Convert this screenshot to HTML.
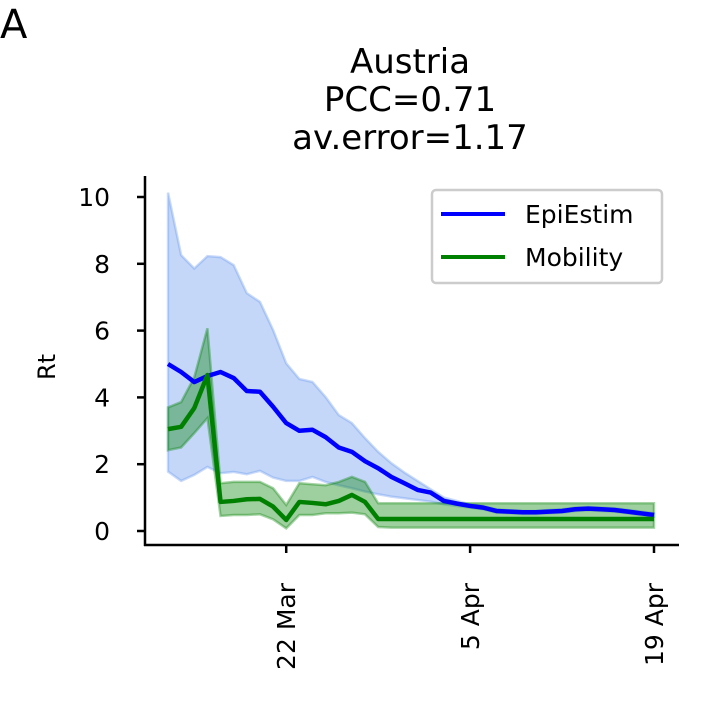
<!DOCTYPE html>
<html><head><meta charset="utf-8"><style>
html,body{margin:0;padding:0;background:#fff;}
svg{display:block;font-family:"DejaVu Sans","Liberation Sans",sans-serif;}
</style></head><body>
<svg id="chart" width="708" height="708" viewBox="0 0 708 708" xmlns="http://www.w3.org/2000/svg">
<text x="0" y="38" font-size="40">A</text>
<g font-size="34" text-anchor="middle">
<text x="410" y="73">Austria</text>
<text x="410" y="111">PCC=0.71</text>
<text x="410" y="149">av.error=1.17</text>
</g>
<text transform="translate(55,367) rotate(-90)" font-size="24" text-anchor="middle">Rt</text>
<g id="plot"></g>
<line x1="145" y1="176" x2="145" y2="546" stroke="#000" stroke-width="2.5"/>
<line x1="144" y1="545" x2="679" y2="545" stroke="#000" stroke-width="2.5"/>
<g id="ticks"></g>
<g>
<rect x="432" y="190" width="230" height="93" rx="4" fill="#fff" fill-opacity="0.8" stroke="#ccc" stroke-width="2.5"/>
<line x1="441" y1="214" x2="505" y2="214" stroke="#0000ff" stroke-width="4"/>
<text x="525" y="223" font-size="25">EpiEstim</text>
<line x1="441" y1="257" x2="505" y2="257" stroke="#008000" stroke-width="4"/>
<text x="525" y="266" font-size="25">Mobility</text>
</g>
</svg>
<script>
const epiMean=[5.0,4.76,4.46,4.64,4.76,4.58,4.19,4.17,3.72,3.23,3.0,3.03,2.81,2.5,2.37,2.09,1.88,1.62,1.43,1.23,1.15,0.9,0.82,0.75,0.7,0.6,0.58,0.56,0.56,0.58,0.6,0.65,0.67,0.65,0.63,0.58,0.53,0.48];
const epiUpper=[10.13,8.26,7.86,8.23,8.2,7.96,7.12,6.86,6.02,5.02,4.55,4.46,4.01,3.47,3.23,2.78,2.37,2.03,1.75,1.5,1.25,1.0,0.9,0.8,0.75,0.65,0.62,0.6,0.6,0.63,0.65,0.7,0.72,0.7,0.68,0.63,0.58,0.53];
const epiLower=[1.78,1.5,1.68,1.92,1.73,1.77,1.7,1.8,1.6,1.5,1.5,1.62,1.47,1.37,1.28,1.18,1.1,1.03,0.98,0.93,0.88,0.8,0.75,0.7,0.65,0.55,0.53,0.51,0.51,0.53,0.55,0.6,0.62,0.6,0.58,0.53,0.48,0.43];
const mobMean=[3.05,3.12,3.68,4.67,0.87,0.9,0.95,0.96,0.73,0.33,0.87,0.84,0.8,0.9,1.08,0.87,0.36,0.36,0.36,0.36,0.36,0.36,0.36,0.36,0.36,0.36,0.36,0.36,0.36,0.36,0.36,0.36,0.36,0.36,0.36,0.36,0.36,0.36];
const mobUpper=[3.7,3.86,4.6,6.07,1.43,1.47,1.47,1.47,1.28,0.78,1.43,1.4,1.37,1.47,1.62,1.47,0.83,0.83,0.83,0.83,0.83,0.83,0.83,0.83,0.83,0.83,0.83,0.83,0.83,0.83,0.83,0.83,0.83,0.83,0.83,0.83,0.83,0.83];
const mobLower=[2.42,2.5,2.93,3.38,0.45,0.48,0.48,0.5,0.35,0.08,0.48,0.48,0.53,0.53,0.55,0.5,0.12,0.1,0.1,0.1,0.1,0.1,0.1,0.1,0.1,0.1,0.1,0.1,0.1,0.1,0.1,0.1,0.1,0.1,0.1,0.1,0.1,0.1];
const yTicks=[0,2,4,6,8,10];
const xTickDays=[9,23,37];
const xTickLabels=["22 Mar","5 Apr","19 Apr"];
const NS="http://www.w3.org/2000/svg";
function xS(i){return 168+i*(654-168)/37;}
function yS(v){return 531-v*33.4;}
function mk(tag,attrs,parent){const e=document.createElementNS(NS,tag);for(const k in attrs)e.setAttribute(k,attrs[k]);parent.appendChild(e);return e;}
const plot=document.getElementById('plot');
function band(up,lo,fill,stroke,name){
 let d='M'+up.map((v,i)=>xS(i)+','+yS(v)).join('L')+'L'+lo.map((v,i)=>xS(i)+','+yS(v)).reverse().join('L')+'Z';
 const p=mk('path',{d:d,fill:fill,'fill-opacity':0.38,stroke:stroke,'stroke-opacity':0.35,'stroke-width':2.5},plot);
 
 
}
function line(vals,color,name){
 const p=mk('polyline',{points:vals.map((v,i)=>xS(i)+','+yS(v)).join(' '),fill:'none',stroke:color,'stroke-width':4.5,'stroke-linejoin':'round'},plot);
 
 
}
band(epiUpper,epiLower,'#6495ed','#6495ed','epiestim-ci-band');
band(mobUpper,mobLower,'#008000','#008000','mobility-ci-band');
line(epiMean,'#0000ff','epiestim-line');
line(mobMean,'#008000','mobility-line');
const tg=document.getElementById('ticks');
yTicks.forEach(v=>{
 const l=mk('line',{x1:137,x2:145,y1:yS(v),y2:yS(v),stroke:'#000','stroke-width':2.5},tg);
 
 
 const t=mk('text',{x:110,y:yS(v)+9,'font-size':25,'text-anchor':'end'},tg);
 t.textContent=v;
 
 
});
xTickDays.forEach((d,i)=>{
 const x=xS(d);
 const l=mk('line',{x1:x,x2:x,y1:545,y2:553,stroke:'#000','stroke-width':2.5},tg);
 
 
 const t=mk('text',{transform:'translate('+(x+9)+',583) rotate(-90)','font-size':25,'text-anchor':'end'},tg);
 t.textContent=xTickLabels[i];
 
 
});
</script>
</body></html>
